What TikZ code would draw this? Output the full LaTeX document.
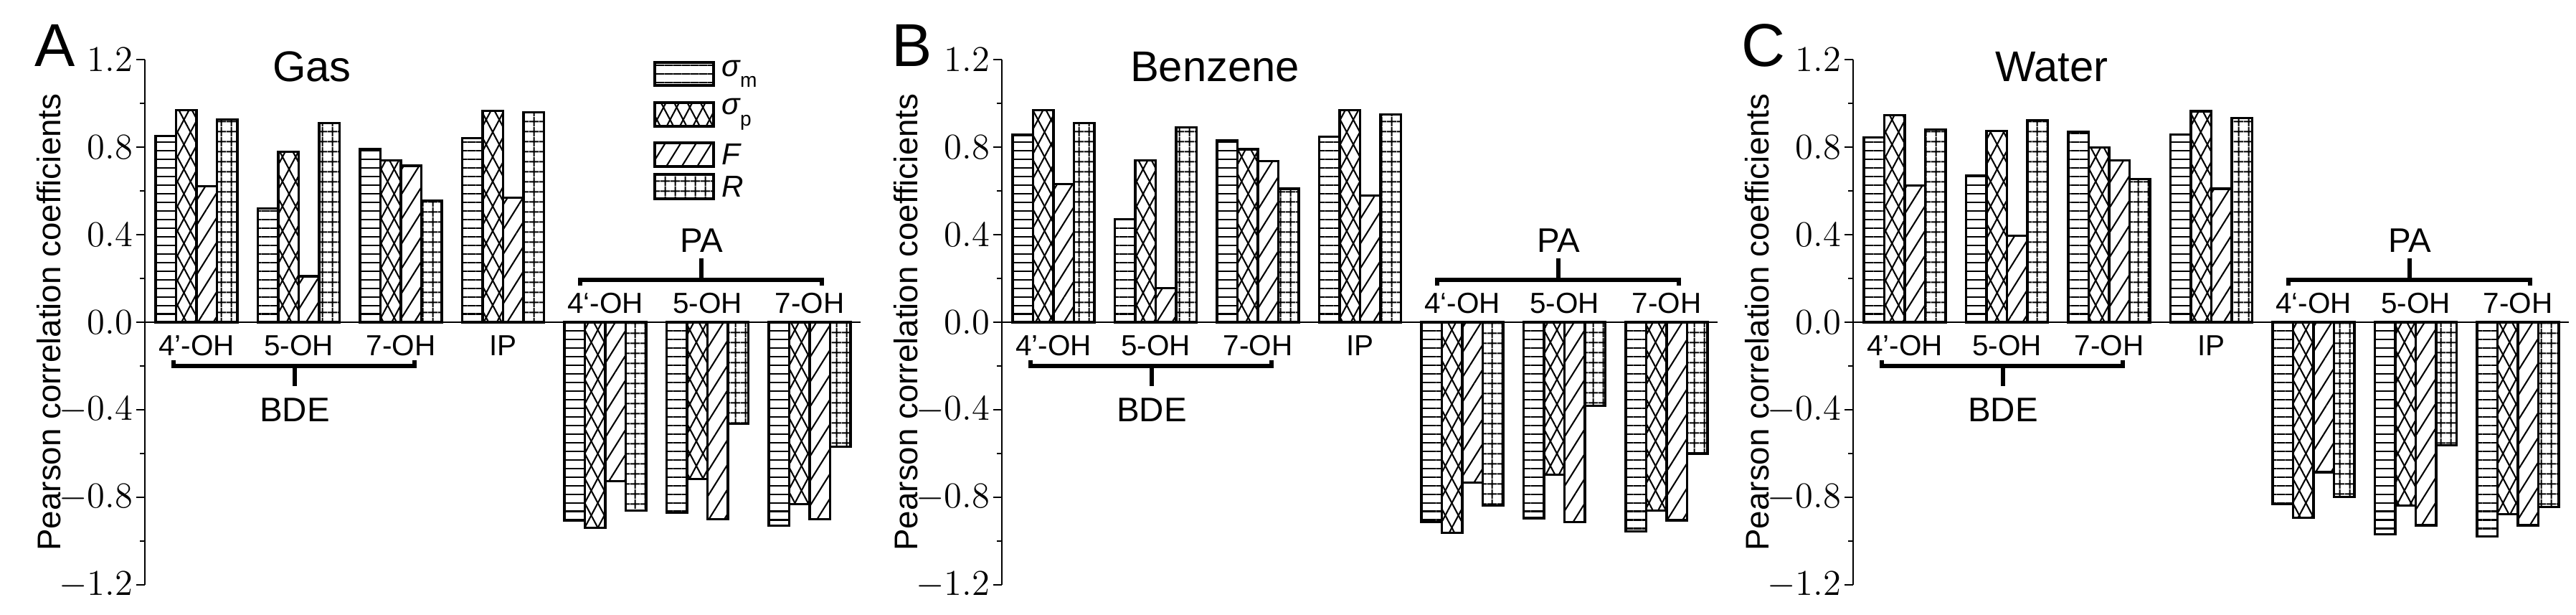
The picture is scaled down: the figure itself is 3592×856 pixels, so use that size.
\documentclass[tikz,border=0pt]{standalone}
\usepackage{fontspec}
\setmainfont{Liberation Sans}
\usetikzlibrary{patterns.meta}
\tikzset{
  axisline/.style={line width=0.75pt},
  barline/.style={line width=0.9pt},
  brace/.style={line width=1.6pt},
  ticklab/.style={font=\fontsize{14.5}{15}\selectfont, anchor=east, inner sep=0pt},
  catlab/.style={font=\fontsize{11.5}{12}\selectfont, inner sep=0pt},
  grouplab/.style={font=\fontsize{13.5}{14}\selectfont, inner sep=0pt},
  titlelab/.style={font=\fontsize{17}{18}\selectfont, inner sep=0pt},
  letterlab/.style={font=\fontsize{24}{25}\selectfont, inner sep=0pt},
  ylab/.style={font=\fontsize{13}{14}\selectfont, rotate=90, inner sep=0pt},
  pm/.style={pattern={Lines[angle=0,distance=3.4pt,line width=0.6pt]}},
  ppa/.style={pattern={Lines[angle=62,distance=4.6pt,line width=0.6pt]}},
  ppb/.style={pattern={Lines[angle=-62,distance=4.6pt,line width=0.6pt]}},
  pf/.style={pattern={Lines[angle=58,distance=5.2pt,line width=0.6pt]}},
  pr/.style={pattern={Hatch[angle=0,distance=4pt,line width=0.6pt]}},
}
% bar: #1 left x, #2 value, #3 kind (0..3)
\newcommand\mybar[3]{%
  \ifcase#3
    \path[pm] (#1,407) rectangle ++(28.5,{305*#2});
  \or
    \path[ppa] (#1,407) rectangle ++(28.5,{305*#2});
    \path[ppb] (#1,407) rectangle ++(28.5,{305*#2});
  \or
    \path[pf] (#1,407) rectangle ++(28.5,{305*#2});
  \or
    \path[pr] (#1,407) rectangle ++(28.5,{305*#2});
  \fi
  \draw[barline] (#1,407) rectangle ++(28.5,{305*#2});
}
% panel: #1 axis x, #2 letter, #3 title, #4 title offset, #5 data
\newcommand\mypanel[5]{%
  \begin{scope}[shift={(#1,0)}]
    \foreach \g/\va/\vb/\vc/\vd in {#5} {
      \pgfmathsetmacro\gx{15+142.5*\g}
      \mybar{\gx}{\va}{0}
      \mybar{\gx+28.5}{\vb}{1}
      \mybar{\gx+57}{\vc}{2}
      \mybar{\gx+85.5}{\vd}{3}
    }
    % axes
    \draw[axisline] (0,41) -- (0,773);
    \draw[axisline] (0,407) -- (998,407);
    \foreach \v in {-1.2,-0.8,-0.4,0.0,0.4,0.8,1.2} {
      \draw[axisline] (-12,{407+305*\v}) -- (0,{407+305*\v});
      \node[ticklab] at (-16,{407+305*\v}) {\pgfmathprintnumber[fixed,precision=1,fixed zerofill]{\v}};
    }
    \foreach \v in {-1.0,-0.6,-0.2,0.2,0.6,1.0}
      \draw[axisline] (-7,{407+305*\v}) -- (0,{407+305*\v});
    \node[ylab] (ylab#2) at (-134,407) {Pearson correlation coefficients};
    \node[letterlab] (let#2) at (-125,793) {#2};
    \node[titlelab] (tit#2) at (#4,763) {#3};
    % category labels
    \node[catlab] (c1#2) at (72,374) {4’-OH};
    \node[catlab] (c2#2) at (214.5,374) {5-OH};
    \node[catlab] (c3#2) at (357,374) {7-OH};
    \node[catlab] (c4#2) at (499.5,374) {IP};
    \node[catlab] (c5#2) at (642,433) {4‘-OH};
    \node[catlab] (c6#2) at (784.5,433) {5-OH};
    \node[catlab] (c7#2) at (927,433) {7-OH};
    % BDE bracket
    \draw[brace] (40,354) -- (40,346) -- (376,346) -- (376,354);
    \draw[brace] (209,346) -- (209,318);
    \node[grouplab] (bde#2) at (209,285) {BDE};
    % PA bracket
    \draw[brace] (607,458) -- (607,466) -- (944,466) -- (944,458);
    \draw[brace] (776,466) -- (776,496);
    \node[grouplab] (pa#2) at (776,521) {PA};
  \end{scope}
}
\begin{document}
\begin{tikzpicture}[x=0.01cm,y=0.01cm]
\useasboundingbox (0,0) rectangle (3592,856);
\mypanel{202}{A}{Gas}{233}{0/0.85/0.97/0.62/0.925, 1/0.52/0.78/0.21/0.91, 2/0.79/0.74/0.715/0.555, 3/0.84/0.966/0.57/0.96, 4/-0.905/-0.94/-0.725/-0.86, 5/-0.87/-0.715/-0.9/-0.465, 6/-0.93/-0.83/-0.9/-0.57}
\mypanel{1397}{B}{Benzene}{297}{0/0.856/0.97/0.632/0.91, 1/0.47/0.74/0.155/0.89, 2/0.83/0.79/0.735/0.61, 3/0.847/0.97/0.58/0.95, 4/-0.913/-0.962/-0.733/-0.838, 5/-0.895/-0.697/-0.913/-0.382, 6/-0.955/-0.86/-0.905/-0.60}
\mypanel{2584}{C}{Water}{277}{0/0.843/0.946/0.625/0.879, 1/0.67/0.874/0.395/0.923, 2/0.87/0.798/0.74/0.653, 3/0.857/0.964/0.61/0.933, 4/-0.83/-0.894/-0.685/-0.798, 5/-0.97/-0.837/-0.928/-0.562, 6/-0.979/-0.876/-0.928/-0.843}
% legend (panel A)
\path[pm] (913,769) rectangle (995,737); \draw[barline] (913,769) rectangle (995,737);
\path[ppa] (913,713) rectangle (995,680); \path[ppb] (913,713) rectangle (995,680); \draw[barline] (913,713) rectangle (995,680);
\path[pf] (913,657) rectangle (995,624); \draw[barline] (913,657) rectangle (995,624);
\path[pr] (913,613) rectangle (995,579); \draw[barline] (913,613) rectangle (995,579);
\node[anchor=west, inner sep=0pt, font=\fontsize{12}{12}\selectfont] (lm) at (1006,753) {\itshape σ\raisebox{-0.7ex}{\upshape\fontsize{8}{8}\selectfont m}};
\node[anchor=west, inner sep=0pt, font=\fontsize{12}{12}\selectfont] (lp) at (1006,697) {\itshape σ\raisebox{-0.7ex}{\upshape\fontsize{8}{8}\selectfont p}};
\node[anchor=west, inner sep=0pt, font=\fontsize{12}{12}\selectfont] (lf) at (1006,641) {\itshape F};
\node[anchor=west, inner sep=0pt, font=\fontsize{12}{12}\selectfont] (lr) at (1006,596) {\itshape R};
\end{tikzpicture}
\end{document}
